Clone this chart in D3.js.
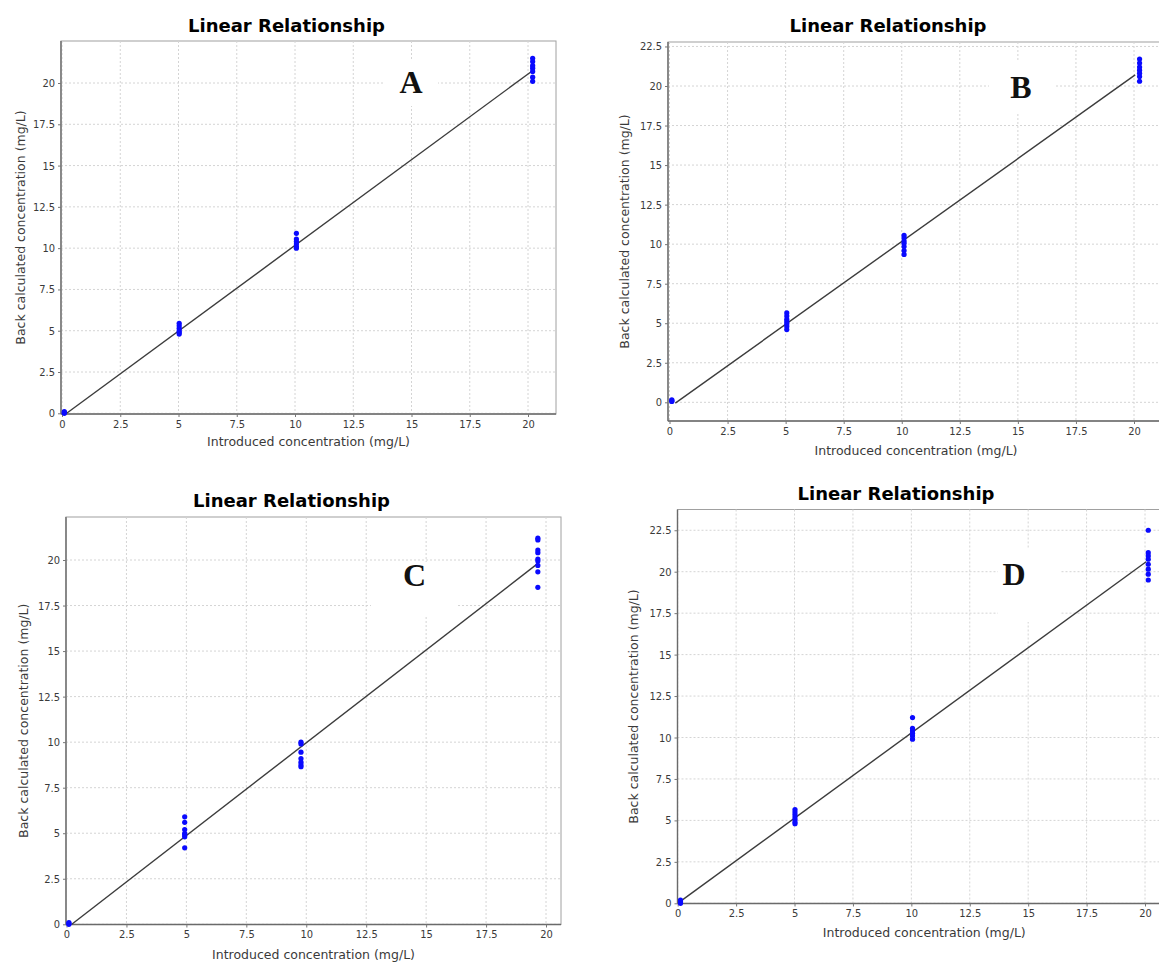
<!DOCTYPE html>
<html>
<head>
<meta charset="utf-8">
<script src="https://cdn.jsdelivr.net/npm/d3@7"></script>
<style>
  body { margin: 0; background: #fff; }
  svg { display: block; }
</style>
</head>
<body>
<div id="my_dataviz"></div>
<script>

// tick values and texts shared by the four panels
const xTicks = [0, 2.5, 5, 7.5, 10, 12.5, 15, 17.5, 20];
const yTicks = [0, 2.5, 5, 7.5, 10, 12.5, 15, 17.5, 20, 22.5];
const panelNames = ["A", "B", "C", "D"];
const chartTitle = "Linear Relationship";
const xTitle = "Introduced concentration (mg/L)";
const yTitle = "Back calculated concentration (mg/L)";

// introduced level of each group, and the back calculated replicates at that level
const levelsA = [0.1, 5.03, 10.06, 20.2];
const backA = [
  [0.0, 0.05, 0.1],
  [5.45, 5.3, 5.15, 5.0, 4.9, 4.8],
  [10.9, 10.55, 10.4, 10.25, 10.1, 10.0],
  [21.5, 21.3, 21.05, 20.9, 20.7, 20.35, 20.1]
];
const fitXA = [0.2, 20.15];
const fitYA = [0.0, 20.7];

const levelsB = [0.1, 5.05, 10.1, 20.24];
const backB = [
  [0.05, 0.1, 0.15],
  [5.65, 5.45, 5.25, 5.1, 4.95, 4.8, 4.6],
  [10.55, 10.4, 10.2, 10.05, 9.85, 9.6, 9.35],
  [21.7, 21.45, 21.2, 21.0, 20.8, 20.6, 20.3]
];
const fitXB = [0.25, 20.05];
const fitYB = [-0.05, 20.7];

const levelsC = [0.1, 4.93, 9.78, 19.66];
const backC = [
  [0.0, 0.05, 0.1],
  [5.9, 5.6, 5.2, 5.0, 4.9, 4.8, 4.2],
  [10.0, 9.9, 9.45, 9.1, 8.9, 8.75, 8.65],
  [21.2, 21.1, 20.55, 20.4, 20.05, 19.95, 19.7, 19.35, 18.5]
];
const fitXC = [0.22, 19.65];
const fitYC = [0.0, 19.8];

const levelsD = [0.12, 5.02, 10.05, 20.14];
const backD = [
  [0.0, 0.1, 0.2],
  [5.65, 5.5, 5.35, 5.2, 5.05, 4.9, 4.8],
  [11.2, 10.55, 10.4, 10.25, 10.1, 9.9],
  [22.5, 21.15, 20.95, 20.75, 20.45, 20.15, 19.85, 19.5]
];
const fitXD = [0.1, 20.05];
const fitYD = [0.1, 20.6];

// where each panel sits on the page
const layout = [
  { x0: 62, x20: 528, y0: 413.3, y20: 83, box: [61, 41, 556, 414], yTop: 20,
    title: [286.5, 31.5], yLab: 21, xLabY: 446, letter: [411, 93], letterBox: [384, 60, 438, 106] },
  { x0: 669.5, x20: 1134, y0: 402.3, y20: 86, box: [668, 42, 1164, 421], yTop: 22.5,
    title: [888, 31.5], yLab: 625, xLabY: 455, letter: [1021, 98], letterBox: [989, 60, 1055, 112] },
  { x0: 66.5, x20: 546, y0: 924.3, y20: 560, box: [66, 517, 561, 924.5], yTop: 20,
    title: [291.5, 506.5], yLab: 24, xLabY: 959, letter: [414.5, 586], letterBox: [371, 562, 458, 616] },
  { x0: 677.7, x20: 1145, y0: 903.3, y20: 571.7, box: [677.5, 509.5, 1171, 903.5], yTop: 22.5,
    title: [896, 499.5], yLab: 634, xLabY: 937, letter: [1014, 585], letterBox: [998, 548, 1060, 622] }
];

const panels = [
  { levels: levelsA, back: backA, fitX: fitXA, fitY: fitYA },
  { levels: levelsB, back: backB, fitX: fitXB, fitY: fitYB },
  { levels: levelsC, back: backC, fitX: fitXC, fitY: fitYC },
  { levels: levelsD, back: backD, fitX: fitXD, fitY: fitYD }
];

const svg = d3.select("#my_dataviz")
  .append("svg")
    .attr("width", 1159)
    .attr("height", 963);

const tickFont = "'DejaVu Sans Condensed', 'DejaVu Sans', sans-serif";
const labelFont = "'DejaVu Sans', sans-serif";

panels.forEach(function(p, i) {
  const L = layout[i];
  const [l, t, r, b] = L.box;

  const x = d3.scaleLinear().domain([0, 20]).range([L.x0, L.x20]);
  const y = d3.scaleLinear().domain([0, 20]).range([L.y0, L.y20]);

  const g = svg.append("g");

  // title
  g.append("text")
    .attr("x", L.title[0])
    .attr("y", L.title[1])
    .attr("text-anchor", "middle")
    .style("font-family", labelFont)
    .style("font-size", "18px")
    .style("font-weight", "bold")
    .attr("fill", "#000")
    .text(chartTitle);

  // plot background
  g.append("rect")
    .attr("x", l).attr("y", t)
    .attr("width", r - l).attr("height", b - t)
    .attr("fill", "#fff")
    .attr("stroke", "#a0a0a0")
    .attr("stroke-width", 1);

  const yt = yTicks.filter(v => v <= L.yTop);

  // grid lines
  g.selectAll(".vgrid")
    .data(xTicks)
    .join("line")
      .attr("x1", d => x(d)).attr("x2", d => x(d))
      .attr("y1", t).attr("y2", b)
      .attr("stroke", "#d4d4d4")
      .attr("stroke-width", 1)
      .style("stroke-dasharray", "2, 2");

  g.selectAll(".hgrid")
    .data(yt)
    .join("line")
      .attr("x1", l).attr("x2", r)
      .attr("y1", d => y(d)).attr("y2", d => y(d))
      .attr("stroke", "#d4d4d4")
      .attr("stroke-width", 1)
      .style("stroke-dasharray", "2, 2");

  // white patch under the panel letter
  const lb = L.letterBox;
  g.append("rect")
    .attr("x", lb[0]).attr("y", lb[1])
    .attr("width", lb[2] - lb[0]).attr("height", lb[3] - lb[1])
    .attr("fill", "#fff");

  g.append("text")
    .attr("x", L.letter[0])
    .attr("y", L.letter[1])
    .attr("text-anchor", "middle")
    .style("font-family", "'Liberation Serif', 'Times New Roman', serif")
    .style("font-size", "32px")
    .style("font-weight", "bold")
    .attr("fill", "#111")
    .text(panelNames[i]);

  // axes
  const xAxis = g.append("g")
    .attr("transform", `translate(0, ${b})`)
    .call(d3.axisBottom(x).tickValues(xTicks).tickSize(3).tickPadding(3).tickFormat(d3.format("")));
  xAxis.select(".domain").attr("d", `M${l},0H${r}`);

  const yAxis = g.append("g")
    .attr("transform", `translate(${l}, 0)`)
    .call(d3.axisLeft(y).tickValues(yt).tickSize(3).tickPadding(3).tickFormat(d3.format("")));
  yAxis.select(".domain").attr("d", `M0,${t}V${b}`);

  [xAxis, yAxis].forEach(function(ax) {
    ax.select(".domain").attr("stroke", "#6a6a6a").attr("stroke-width", 1.4);
    ax.selectAll(".tick line").attr("stroke", "#777");
    ax.selectAll(".tick text")
      .attr("fill", "#3a3a3a")
      .style("font-family", tickFont)
      .style("font-size", "11px");
  });

  // axis labels
  g.append("text")
    .attr("x", (l + r) / 2)
    .attr("y", L.xLabY)
    .attr("text-anchor", "middle")
    .style("font-family", labelFont)
    .style("font-size", "12.5px")
    .attr("fill", "#3a3a3a")
    .text(xTitle);

  g.append("text")
    .attr("transform", `translate(${L.yLab}, ${(t + b) / 2}) rotate(-90)`)
    .attr("dy", "0.35em")
    .attr("text-anchor", "middle")
    .style("font-family", labelFont)
    .style("font-size", "12.5px")
    .attr("fill", "#3a3a3a")
    .text(yTitle);

  // regression line
  const fit = p.fitX.map((v, k) => [v, p.fitY[k]]);
  g.append("path")
    .datum(fit)
    .attr("fill", "none")
    .attr("stroke", "#3c3c3c")
    .attr("stroke-width", 1.4)
    .attr("d", d3.line()
      .x(d => x(d[0]))
      .y(d => y(d[1]))
    );

  // replicate points
  const pts = [];
  p.levels.forEach(function(lev, k) {
    p.back[k].forEach(v => pts.push([lev, v]));
  });
  g.selectAll(".pt")
    .data(pts)
    .join("circle")
      .attr("cx", d => x(d[0]))
      .attr("cy", d => y(d[1]))
      .attr("r", 2.6)
      .attr("fill", "#0a0aff");
});

</script>
</body>
</html>
